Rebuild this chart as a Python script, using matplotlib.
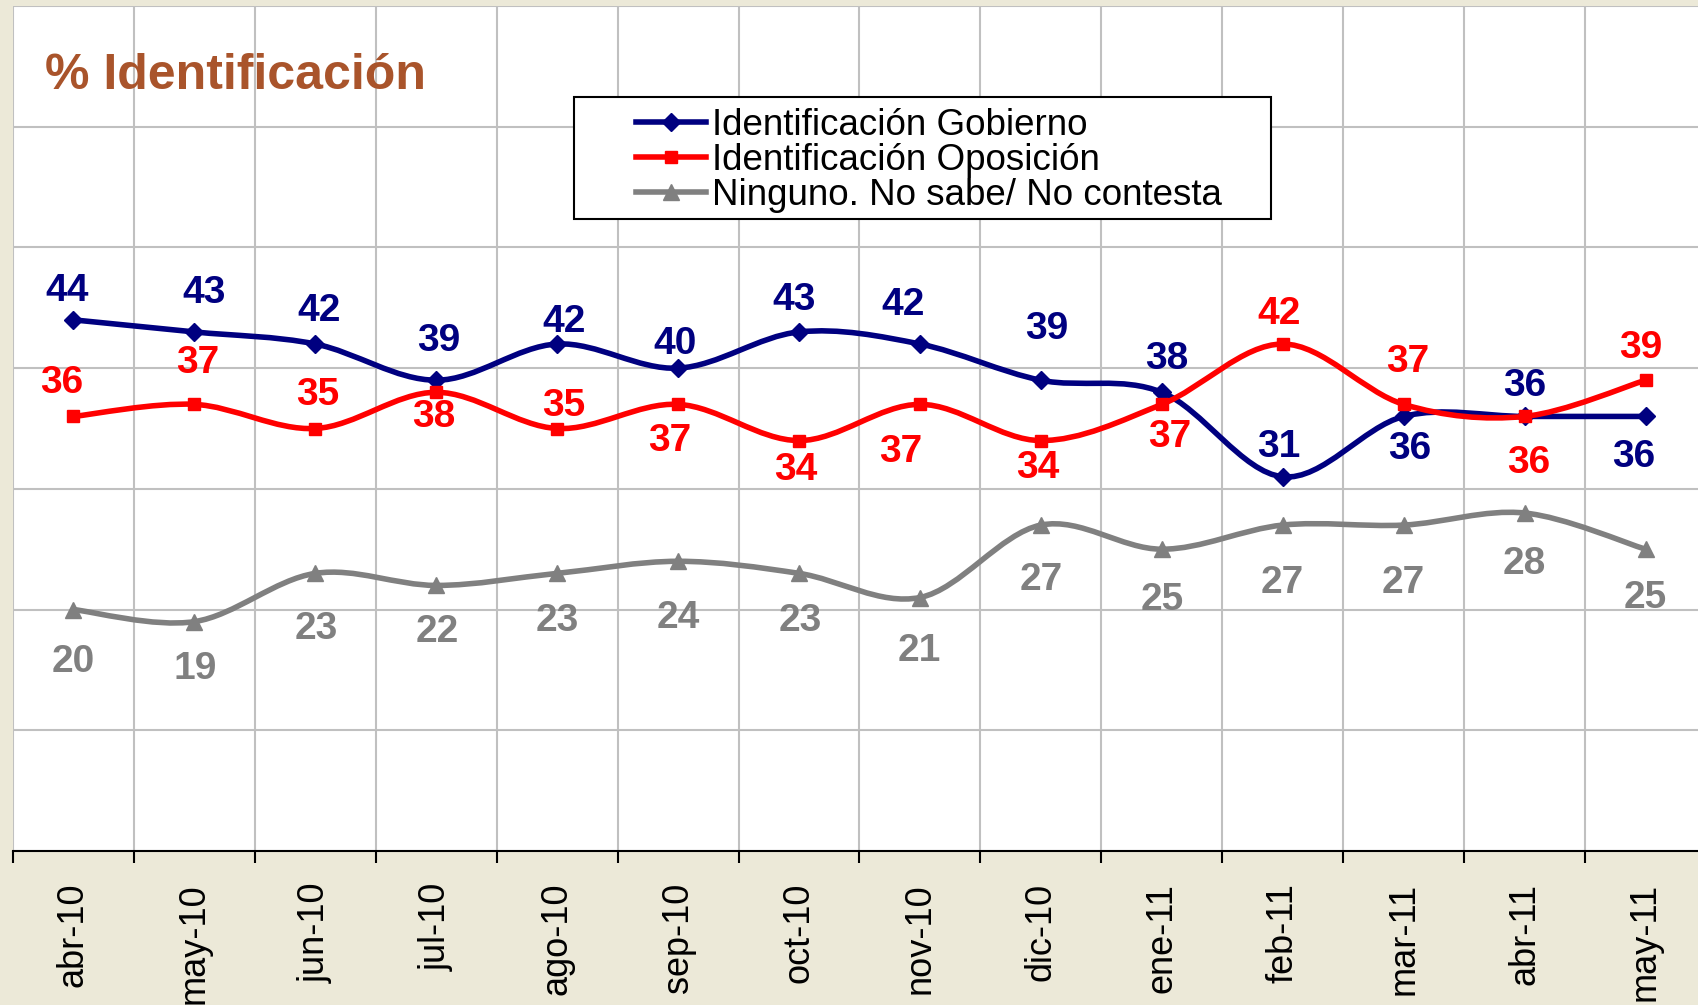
import matplotlib.pyplot as plt
import numpy as np
from matplotlib.lines import Line2D
from matplotlib.patches import PathPatch, Rectangle
from matplotlib.path import Path

meses = [
    "abr-10", "may-10", "jun-10", "jul-10", "ago-10", "sep-10", "oct-10",
    "nov-10", "dic-10", "ene-11", "feb-11", "mar-11", "abr-11", "may-11",
]
gobierno = [44, 43, 42, 39, 42, 40, 43, 42, 39, 38, 31, 36, 36, 36]
oposicion = [36, 37, 35, 38, 35, 37, 34, 37, 34, 37, 42, 37, 36, 39]
ninguno = [20, 19, 23, 22, 23, 24, 23, 21, 27, 25, 27, 27, 28, 25]

# where each value label sits, in pixels from its marker (dx, dy up)
pos_gobierno = [(-6, 33), (10, 43), (4, 37), (3, 43), (7, 26), (-3, 28), (-5, 36),
                (-17, 43), (6, 55), (5, 37), (-4, 34), (6, -29), (0, 34), (-12, -37)]
pos_oposicion = [(-12, 37), (3, 45), (2, 38), (-2, -21), (7, 27), (-8, -33), (-3, -25),
                 (-19, -44), (-3, -23), (8, -29), (-4, 34), (4, 46), (4, -43), (-5, 36)]
pos_ninguno = [(0, -48), (1, -43), (1, -52), (1, -43), (0, -44), (0, -53), (1, -44),
               (-1, -49), (0, -51), (0, -47), (0, -54), (0, -54), (0, -47), (0, -45)]

W, H = 1699, 1005
FONT = ["Liberation Sans", "DejaVu Sans"]


def smooth_path(xs, ys):
    # cubic bezier through every point, like a spreadsheet's "smoothed line"
    pts = np.column_stack([xs, ys]).astype(float)
    n = len(pts)
    verts = [pts[0]]
    codes = [Path.MOVETO]
    for i in range(n - 1):
        p0 = pts[max(i - 1, 0)]
        p1 = pts[i]
        p2 = pts[i + 1]
        p3 = pts[min(i + 2, n - 1)]
        verts += [p1 + (p2 - p0) / 6, p2 - (p3 - p1) / 6, p2]
        codes += [Path.CURVE4] * 3
    return Path(verts, codes)


def serie(ax, values, color, marker, ms, offsets, z):
    x = np.arange(len(values))
    ax.add_patch(PathPatch(smooth_path(x, values), fill=False, ec=color,
                           lw=4, capstyle="round", joinstyle="round", zorder=z))
    ax.plot(x, values, ls="none", marker=marker, ms=ms, color=color, zorder=z + 0.5)
    for xi, v, (dx, dy) in zip(x, values, offsets):
        ax.annotate(str(v), (xi, v), xytext=(dx, dy - 14), textcoords="offset pixels",
                    ha="center", va="baseline", color=color, fontsize=28,
                    fontweight="bold", family=FONT, zorder=6)
    return Line2D([], [], color=color, lw=4, marker=marker, ms=ms)


fig = plt.figure(figsize=(W / 100, H / 100), dpi=100, facecolor="#ECE9D8")
ax = fig.add_axes([13 / W, 1 - 851 / H, 1693 / W, 845 / H])
ax.set_facecolor("white")

h1 = serie(ax, gobierno, "#000080", "D", 9, pos_gobierno, 3)
h2 = serie(ax, oposicion, "#FF0000", "s", 9, pos_oposicion, 4)
h3 = serie(ax, ninguno, "#808080", "^", 11, pos_ninguno, 2)

ax.set_xlim(-0.5, 13.5)
ax.set_ylim(0, 70)
ax.set_xticks(range(len(meses)))
ax.set_xticklabels(meses, rotation=90, fontsize=26, family=FONT)
ax.set_xticks(np.arange(-0.5, 14, 1), minor=True)
ax.set_yticks(range(0, 71, 10))
ax.grid(which="minor", axis="x", color="#C0C0C0", lw=1.5)
ax.grid(which="major", axis="y", color="#C0C0C0", lw=1.5)
ax.set_axisbelow(True)
ax.tick_params(axis="y", length=0, labelleft=False)
ax.tick_params(axis="x", which="major", length=0, pad=23)
ax.tick_params(axis="x", which="minor", length=8.6, width=1.5, color="black")
for side in ("left", "top", "right"):
    ax.spines[side].set_visible(False)
ax.spines["bottom"].set_linewidth(1.5)

fig.text(45 / W, 1 - 89 / H, "% Identificación", fontsize=36, fontweight="bold",
         color="#A9542B", family=FONT, va="baseline")

fig.add_artist(Rectangle((574 / W, 1 - 219 / H), 697 / W, 122 / H,
                         transform=fig.transFigure, fc="white", ec="black",
                         lw=1.5, zorder=4))
fig.legend([h1, h2, h3],
           ["Identificación Gobierno", "Identificación Oposición",
            "Ninguno. No sabe/ No contesta"],
           loc="upper left", bbox_to_anchor=(636 / W, 1 - 108 / H), frameon=False,
           borderpad=0, borderaxespad=0, handlelength=1.9, handletextpad=0.17,
           labelspacing=0.0, prop={"family": FONT, "size": 26.5})

fig.savefig("out.png", dpi=100, facecolor=fig.get_facecolor())
